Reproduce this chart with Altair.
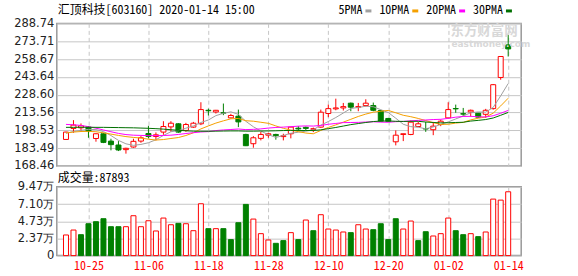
import altair as alt
import pandas as pd

# ---------------- data ----------------
opens = [190.8, 200.1, 200.6, 201.2, 191.6, 195.6, 189.4, 186.1, 182.2, 184.4,
         189.4, 195.8, 193.3, 197.0, 201.4, 204.0, 198.4, 201.2, 204.0, 215.4,
         214.0, 213.3, 209.0, 210.4, 195.0, 187.2, 191.7, 194.4, 195.0, 193.2,
         195.6, 200.3, 201.0, 199.3, 201.2, 212.7, 216.6, 217.4, 221.4, 218.0,
         219.4, 219.4, 215.2, 208.5, 188.8, 195.0, 195.0, 201.7, 200.0, 199.0,
         203.4, 209.0, 216.9, 212.5, 214.0, 213.0, 212.0, 216.8, 243.1, 270.6]
closes = [197.0, 202.9, 202.3, 197.8, 195.6, 188.3, 186.4, 181.9, 183.3, 189.2,
          192.2, 193.3, 194.7, 201.7, 204.5, 197.0, 203.4, 204.5, 216.0, 215.0,
          215.4, 213.0, 211.0, 205.6, 185.5, 192.2, 195.0, 195.6, 194.0, 193.9,
          201.2, 199.7, 200.1, 199.9, 213.8, 216.8, 217.4, 218.5, 218.0, 218.5,
          221.4, 215.4, 206.2, 206.0, 194.4, 195.6, 205.4, 204.0, 199.6, 202.0,
          206.2, 216.0, 216.6, 212.2, 215.4, 209.6, 215.4, 237.0, 260.8, 267.2]
highs = [197.3, 207.1, 204.3, 202.0, 195.8, 196.4, 191.4, 189.4, 183.8, 191.4,
         193.6, 202.3, 196.7, 206.2, 206.2, 204.5, 204.8, 205.6, 222.2, 216.8,
         215.7, 221.1, 212.4, 216.0, 195.6, 193.6, 197.2, 196.4, 195.6, 195.6,
         201.5, 202.0, 201.7, 200.8, 216.0, 220.2, 225.2, 221.6, 221.9, 221.6,
         224.7, 221.9, 215.7, 209.0, 198.4, 195.6, 206.8, 205.6, 205.6, 205.6,
         207.6, 222.2, 220.2, 217.4, 216.0, 213.0, 216.6, 237.6, 260.8, 279.0]
lows = [190.5, 196.4, 197.2, 192.2, 188.9, 187.7, 181.6, 181.0, 178.8, 183.8,
        188.0, 191.7, 190.0, 194.7, 197.2, 196.4, 197.2, 200.6, 202.9, 211.0,
        212.7, 211.3, 208.5, 201.2, 185.2, 183.8, 190.0, 192.2, 190.6, 190.0,
        191.7, 197.8, 198.5, 197.0, 200.6, 209.6, 215.4, 215.2, 214.6, 214.6,
        218.5, 214.6, 205.6, 205.6, 185.8, 189.4, 194.4, 201.2, 197.2, 194.4,
        202.0, 208.5, 213.3, 210.4, 210.0, 209.0, 209.0, 216.0, 241.2, 260.8]
# volume in 万 (10k lots)
volumes = [2.84, 3.52, 2.88, 4.39, 4.67, 5.08, 3.98, 3.98, 3.98, 5.49,
           3.98, 4.80, 3.39, 5.17, 4.25, 4.44, 4.39, 3.43, 7.14, 3.71,
           3.71, 3.71, 2.20, 4.53, 7.05, 5.03, 3.02, 2.15, 1.69, 2.06,
           3.16, 2.20, 4.90, 3.43, 5.63, 3.66, 3.52, 3.25, 3.16, 4.25,
           3.66, 3.57, 4.39, 2.20, 5.08, 3.66, 4.76, 2.06, 3.29, 2.70,
           3.02, 5.17, 3.43, 2.88, 3.02, 2.61, 3.25, 7.78, 7.64, 8.79]
vol_up = [1, 1, 0, 0, 0, 0, 0, 0, 1, 1, 1, 1, 1, 1, 1, 0, 1, 1, 1, 0,
          1, 0, 0, 0, 0, 1, 1, 1, 0, 0, 1, 0, 1, 0, 1, 1, 1, 1, 0, 1,
          1, 0, 0, 0, 0, 1, 1, 0, 0, 1, 1, 1, 0, 0, 1, 0, 1, 1, 1, 1]
ma5 = [196.0, 197.5, 198.5, 199.3, 199.1, 197.4, 194.1, 190.0, 187.1, 185.8,
       186.6, 188.0, 190.5, 194.2, 197.3, 198.2, 200.3, 202.2, 205.1, 207.2,
       210.9, 212.8, 214.1, 212.0, 206.1, 201.5, 197.9, 194.8, 192.5, 194.1,
       196.0, 196.9, 197.8, 199.0, 202.9, 205.9, 209.3, 213.1, 216.9, 217.8,
       218.8, 218.4, 215.9, 213.5, 208.7, 203.6, 201.6, 201.1, 199.8, 201.3,
       203.4, 205.6, 208.1, 210.6, 213.3, 214.0, 213.8, 217.9, 227.6, 238.0]
ma10 = [196.3, 197.0, 197.5, 197.6, 197.3, 196.4, 195.3, 194.2, 193.2, 192.5,
        192.0, 191.0, 190.3, 190.7, 191.6, 192.4, 194.1, 196.4, 199.7, 202.2,
        204.6, 206.5, 208.2, 208.5, 206.6, 206.2, 205.3, 204.4, 202.2, 200.2,
        198.7, 197.4, 196.2, 195.6, 198.4, 200.9, 203.1, 205.4, 207.8, 210.2,
        212.2, 213.8, 214.6, 215.3, 213.3, 211.2, 210.0, 208.5, 206.7, 205.0,
        203.5, 203.6, 204.6, 205.2, 207.3, 208.7, 209.7, 213.0, 219.1, 225.6]
ma20 = [203.5, 203.2, 202.6, 201.6, 200.3, 198.8, 197.3, 195.9, 194.9, 194.4,
        194.2, 194.0, 194.0, 194.1, 194.4, 195.0, 195.8, 196.5, 197.1, 197.4,
        198.3, 198.8, 199.2, 199.6, 199.1, 199.3, 199.7, 200.4, 200.9, 201.2,
        201.6, 202.0, 202.2, 202.1, 202.6, 203.6, 204.3, 205.0, 205.1, 205.2,
        205.5, 205.7, 205.4, 205.3, 205.8, 206.0, 206.5, 206.9, 207.2, 207.6,
        207.8, 208.6, 209.6, 210.2, 210.3, 209.9, 209.8, 210.8, 212.9, 215.3]
ma30 = [201.0, 201.0, 201.1, 201.1, 201.0, 201.0, 200.9, 200.8, 200.7, 200.6,
        200.4, 200.2, 199.9, 199.5, 199.0, 198.5, 198.1, 197.8, 197.7, 197.7,
        197.8, 197.9, 198.0, 198.0, 197.8, 197.8, 197.9, 198.0, 198.1, 198.3,
        198.4, 198.4, 198.3, 198.3, 198.9, 199.9, 200.9, 202.1, 203.3, 204.2,
        205.1, 205.9, 206.3, 206.4, 206.1, 206.0, 206.1, 206.1, 205.5, 205.1,
        204.8, 204.9, 205.1, 205.3, 206.3, 206.9, 207.6, 208.9, 211.2, 213.6]

tick_idx = [3, 11, 19, 27, 35, 43, 51, 59]
tick_labels = ["10-25", "11-06", "11-18", "11-28", "12-10", "12-20", "01-02", "01-14"]
price_ticks = [168.46, 183.49, 198.53, 213.56, 228.60, 243.64, 258.67, 273.71, 288.74]
vol_ticks = [0, 2.37, 4.73, 7.10, 9.47]
ma_names = ["5PMA", "10PMA", "20PMA", "30PMA"]
ma_colors = ["#a0a0a0", "#f5a000", "#ff00ff", "#006f00"]
title_text = "汇顶科技[603160] 2020-01-14 15:00"
vol_title = "成交量:87893"
wm_cn = "东方财富网"
wm_en = "eastmoney.com"

# ---------------- build ----------------
n = len(closes)
df = pd.DataFrame({
    "i": list(range(n)),
    "open": opens, "close": closes, "high": highs, "low": lows,
    "dir": ["up" if c >= o else "down" for o, c in zip(opens, closes)],
    "vol": volumes,
    "vdir": ["up" if u else "down" for u in vol_up],
    "5PMA": ma5, "10PMA": ma10, "20PMA": ma20, "30PMA": ma30,
})

RED = "#ff0000"
GREEN = "#008000"
MONO = "Noto Sans Mono CJK SC, Noto Sans CJK SC, DejaVu Sans Mono"
SANS = "DejaVu Sans"
GRID = "#c6c6c6"
W, HP, HV = 466, 143, 69
PAD_L, PAD_T, PAD_R, PAD_B, GAP = 56, 22, 56, 21, 21

xscale = alt.Scale(domain=[-0.56, 60.07], nice=False, zero=False)
stroke_scale = alt.Scale(domain=["up", "down"], range=[RED, GREEN])
fill_scale = alt.Scale(domain=["up", "down"], range=["#ffffff", GREEN])
pscale = alt.Scale(domain=[price_ticks[0], price_ticks[-1]], nice=False, zero=False)
vscale = alt.Scale(domain=[vol_ticks[0], vol_ticks[-1]], nice=False, zero=True)

label_expr = ("[" + ",".join("'%s'" % s for s in tick_labels) + "][indexof(["
              + ",".join(str(t) for t in tick_idx) + "], datum.value)]")

grid_x_common = dict(values=tick_idx, ticks=False, domain=False, grid=True,
                     gridDash=[4, 3], gridColor=GRID, title=None)

x_axis_price = alt.Axis(labels=False, **grid_x_common)
y_axis_price = alt.Axis(values=price_ticks, format=".2f", title=None, grid=True,
                        gridColor=GRID, ticks=False, domain=False, labelPadding=3,
                        labelOverlap=False, labelFont=SANS, labelFontSize=11.5,
                        labelColor="#222222")


def xp():
    return alt.X("i:Q", scale=xscale, axis=x_axis_price)


def yp(field):
    return alt.Y(field, scale=pscale, axis=y_axis_price)


base = alt.Chart(df)

wicks = base.mark_rule(strokeWidth=1).encode(
    x=xp(), y=yp("low:Q"), y2="high:Q",
    stroke=alt.Stroke("dir:N", scale=stroke_scale, legend=None),
)
bodies = base.mark_bar(size=5, strokeWidth=1).encode(
    x=xp(), y=yp("open:Q"), y2="close:Q",
    fill=alt.Fill("dir:N", scale=fill_scale, legend=None),
    stroke=alt.Stroke("dir:N", scale=stroke_scale, legend=None),
)
lines = base.transform_fold(ma_names, as_=["ma", "val"]).mark_line(strokeWidth=1).encode(
    x=xp(), y=yp("val:Q"),
    color=alt.Color("ma:N", scale=alt.Scale(domain=ma_names, range=ma_colors), legend=None),
)


def text_layer(txt, x, y, **kw):
    return alt.Chart(pd.DataFrame({"t": [txt]})).mark_text(
        align="left", baseline="middle", **kw
    ).encode(x=alt.value(x), y=alt.value(y), text="t:N")


def anchor(x, y):
    # invisible (white, zero-width) point that fixes the page frame
    return alt.Chart(pd.DataFrame({"t": [0]})).mark_rule(
        strokeWidth=0, color="#ffffff"
    ).encode(x=alt.value(x), x2=alt.value(x), y=alt.value(y), y2=alt.value(y))


title_layer = text_layer(title_text, 1, -13, font=MONO, fontSize=12, color="#000000")
wm1 = text_layer(wm_cn, 395, 8, font="Noto Sans CJK SC", fontSize=13.5,
                 fontWeight="bold", color="#d8d8d8")
wm2 = text_layer(wm_en, 396, 21, font=SANS, fontSize=9, fontWeight="bold",
                 color="#d8d8d8")

legend_layers = []
lx = 282.7
for name, col in zip(ma_names, ma_colors):
    legend_layers.append(text_layer(name, lx, -13, font=MONO, fontSize=12, color="#000000"))
    mx = lx + len(name) * 6 + 3
    legend_layers.append(
        alt.Chart(pd.DataFrame({"t": [name]})).mark_rule(strokeWidth=3, color=col).encode(
            x=alt.value(mx), x2=alt.value(mx + 6), y=alt.value(-12.5)
        )
    )
    lx = mx + 6 + 8

price = alt.layer(
    wicks, bodies, lines, wm1, wm2, title_layer, *legend_layers,
    anchor(-PAD_L, -PAD_T), anchor(W + PAD_R, -PAD_T)
).properties(width=W, height=HP)

x_vol = alt.X("i:Q", scale=xscale, axis=alt.Axis(
    labelExpr=label_expr, labelColor=RED, labelFont=MONO, labelFontSize=12,
    labelPadding=5, labelFlush=False, labelOverlap=False, **grid_x_common))
y_vol = alt.Y("vol:Q", scale=vscale, stack=None, axis=alt.Axis(
    values=vol_ticks, labelExpr="datum.value == 0 ? '0' : format(datum.value, '.2f') + '万'",
    title=None, grid=True, gridColor=GRID, ticks=False, domain=False, labelPadding=3,
    labelOverlap=False, labelFont=SANS, labelFontSize=11.5, labelColor="#222222"))

vbars = base.mark_bar(size=5, strokeWidth=1, orient="vertical").encode(
    x=x_vol,
    y=y_vol,
    fill=alt.Fill("vdir:N", scale=fill_scale, legend=None),
    stroke=alt.Stroke("vdir:N", scale=stroke_scale, legend=None),
)
vtitle = text_layer(vol_title, 1, -9, font=MONO, fontSize=12, color="#000000")

volume = alt.layer(
    vbars, vtitle, anchor(-PAD_L, HV + PAD_B), anchor(W + PAD_R, HV + PAD_B)
).properties(width=W, height=HV)

chart = alt.vconcat(price, volume, spacing=GAP, bounds="flush").properties(
    padding=0,
    background="#ffffff",
).configure_view(stroke="#999999", strokeWidth=1.5).configure_axis(labelOverlap=False)

chart.save("out.html", embed_options={"renderer": "svg", "actions": False})
